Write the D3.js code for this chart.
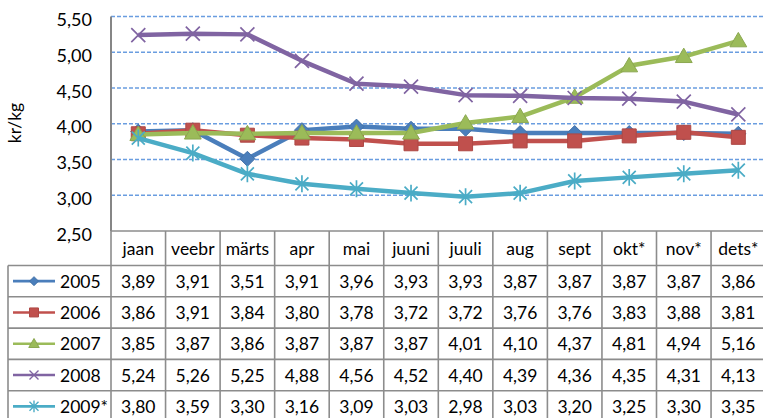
<!DOCTYPE html>
<head>
<meta charset="utf-8">
<script src="https://d3js.org/d3.v7.min.js"></script>
<style>
body { margin: 0; background: white; }
svg { font-family: Lato, 'Liberation Sans', sans-serif; }
.grid { stroke: #6a9de0; stroke-width: 1.3; stroke-dasharray: 4,2; }
.tbl { stroke: #8c8c8c; stroke-width: 1.6; }
.lbl { font-size: 17.5px; fill: #000; }
</style>
</head>
<body>
<svg id="chart" width="763" height="418"></svg>
<script>

var months = ["jaan", "veebr", "märts", "apr", "mai", "juuni", "juuli", "aug", "sept", "okt*", "nov*", "dets*"];
var years = ["2005", "2006", "2007", "2008", "2009*"];

var v2005 = [3.89, 3.91, 3.51, 3.91, 3.96, 3.93, 3.93, 3.87, 3.87, 3.87, 3.87, 3.86];
var v2006 = [3.86, 3.91, 3.84, 3.80, 3.78, 3.72, 3.72, 3.76, 3.76, 3.83, 3.88, 3.81];
var v2007 = [3.85, 3.87, 3.86, 3.87, 3.87, 3.87, 4.01, 4.10, 4.37, 4.81, 4.94, 5.16];
var v2008 = [5.24, 5.26, 5.25, 4.88, 4.56, 4.52, 4.40, 4.39, 4.36, 4.35, 4.31, 4.13];
var v2009 = [3.80, 3.59, 3.30, 3.16, 3.09, 3.03, 2.98, 3.03, 3.20, 3.25, 3.30, 3.35];

var yTicks = [2.5, 3.0, 3.5, 4.0, 4.5, 5.0, 5.5];
var yLabel = "kr/kg";

var colors = ["#4a7ebb", "#c0504d", "#9bbb59", "#8064a2", "#4bacc6"];
var markers = ["diamond", "square", "triangle", "x", "star"];

var series = [v2005, v2006, v2007, v2008, v2009].map(function(vals, i) {
  return { name: years[i], values: vals, color: colors[i], marker: markers[i] };
});

var et = d3.formatLocale({decimal: ",", thousands: " ", grouping: [3], currency: ["", ""]});
var fmt = et.format(".2f");

var svg = d3.select("#chart");

// plot box (window.top is read-only, so prefix names)
var pLeft = 111, pTop = 16.5, pBottom = 231, pRight = 763;
var x = d3.scaleBand().domain(months).range([pLeft, pLeft + 12 * 54.55]);
var y = d3.scaleLinear().domain([2.5, 5.5]).range([pBottom, pTop]);

// gridlines
svg.append("g").selectAll("line")
  .data(yTicks.filter(function(d) { return d > 2.5; }))
  .enter().append("line")
    .attr("class", "grid")
    .attr("x1", pLeft).attr("x2", pRight)
    .attr("y1", function(d) { return y(d); })
    .attr("y2", function(d) { return y(d); });

// y axis labels
var yAxis = svg.append("g")
  .attr("transform", "translate(" + pLeft + ",0)")
  .call(d3.axisLeft(y).tickValues(yTicks).tickSize(0).tickPadding(19).tickFormat(fmt));
yAxis.select(".domain").remove();
yAxis.attr("font-size", null).attr("font-family", null);
yAxis.selectAll("text").attr("class", "lbl").attr("dy", "0.5em").style("font-size", "18px");

svg.append("line")
  .attr("x1", pLeft).attr("x2", pLeft).attr("y1", pTop).attr("y2", pBottom)
  .attr("stroke", "#868686").attr("stroke-width", 2);

svg.append("text")
  .attr("class", "lbl")
  .attr("transform", "translate(21,123) rotate(-90)")
  .attr("text-anchor", "middle")
  .text(yLabel);

// marker shapes
function markerPath(type, s) {
  if (type == "diamond") return "M0," + (-s) + "L" + s + ",0L0," + s + "L" + (-s) + ",0Z";
  if (type == "square") return "M" + (-s) + "," + (-s) + "H" + s + "V" + s + "H" + (-s) + "Z";
  if (type == "triangle") return "M0," + (-s * 1.05) + "L" + (s * 1.05) + "," + (s * 0.75) + "L" + (-s * 1.05) + "," + (s * 0.75) + "Z";
  if (type == "x") return "M" + (-s) + "," + (-s) + "L" + s + "," + s + "M" + (-s) + "," + s + "L" + s + "," + (-s);
  if (type == "star") return "M" + (-s) + "," + (-s) + "L" + s + "," + s + "M" + (-s) + "," + s + "L" + s + "," + (-s) + "M0," + (-s * 1.3) + "V" + (s * 1.3);
}
var bigSize = {diamond: 7.5, square: 7, triangle: 8, x: 7, star: 6.5};
var smallSize = {diamond: 4.5, square: 4.5, triangle: 5, x: 4.5, star: 4.5};

function drawMarker(g, d, cx, cy, size, sw) {
  var p = g.append("path")
    .attr("transform", "translate(" + cx + "," + cy + ")")
    .attr("d", markerPath(d.marker, size[d.marker]));
  if (d.marker == "x" || d.marker == "star") {
    p.attr("fill", "none").attr("stroke", d.color).attr("stroke-width", sw);
  } else {
    p.attr("fill", d.color).attr("stroke", d3.color(d.color).darker(0.3)).attr("stroke-width", 1);
  }
}

var line = d3.line()
  .x(function(d, i) { return x(months[i]) + x.bandwidth() / 2; })
  .y(function(d) { return y(d); });

var plot = svg.append("g");
series.forEach(function(s) {
  var g = plot.append("g");
  g.append("path")
    .attr("d", line(s.values))
    .attr("fill", "none")
    .attr("stroke", s.color)
    .attr("stroke-width", 4.5)
    .attr("stroke-linejoin", "round");
  s.values.forEach(function(v, i) {
    drawMarker(g, s, x(months[i]) + x.bandwidth() / 2, y(v), bigSize, 1.7);
  });
});

// data table
var headH = 34.5, rowH = 31.3;
var rowTop = pBottom + headH;
var tbl = svg.append("g");

tbl.append("line").attr("class", "tbl")
  .attr("x1", pLeft).attr("x2", pRight).attr("y1", pBottom).attr("y2", pBottom);
for (var r = 0; r <= series.length; r++) {
  tbl.append("line").attr("class", "tbl")
    .attr("x1", 8).attr("x2", pRight)
    .attr("y1", rowTop + r * rowH).attr("y2", rowTop + r * rowH);
}
tbl.selectAll(".vcol")
  .data(d3.range(13))
  .enter().append("line")
    .attr("class", "tbl")
    .attr("x1", function(i) { return pLeft + i * x.bandwidth(); })
    .attr("x2", function(i) { return pLeft + i * x.bandwidth(); })
    .attr("y1", pBottom).attr("y2", 418);
tbl.append("line").attr("class", "tbl")
  .attr("x1", 8).attr("x2", 8).attr("y1", rowTop).attr("y2", 418);

tbl.selectAll(".mon")
  .data(months)
  .enter().append("text")
    .attr("class", "lbl")
    .attr("x", function(d) { return x(d) + x.bandwidth() / 2; })
    .attr("y", pBottom + headH / 2)
    .attr("dy", "0.38em")
    .attr("text-anchor", "middle")
    .text(function(d) { return d; });

series.forEach(function(s, r) {
  var cy = rowTop + r * rowH + rowH / 2;
  var g = tbl.append("g");
  g.append("line")
    .attr("x1", 13).attr("x2", 55).attr("y1", cy).attr("y2", cy)
    .attr("stroke", s.color).attr("stroke-width", 2.6);
  drawMarker(g, s, 34, cy, smallSize, 1.4);
  g.append("text")
    .attr("class", "lbl")
    .attr("x", 60).attr("y", cy).attr("dy", "0.38em")
    .text(s.name);
  g.selectAll(".val")
    .data(s.values)
    .enter().append("text")
      .attr("class", "lbl")
      .attr("x", function(d, i) { return x(months[i]) + x.bandwidth() / 2; })
      .attr("y", cy).attr("dy", "0.38em")
      .attr("text-anchor", "middle")
      .text(function(d) { return fmt(d); });
});

</script>
</body>
